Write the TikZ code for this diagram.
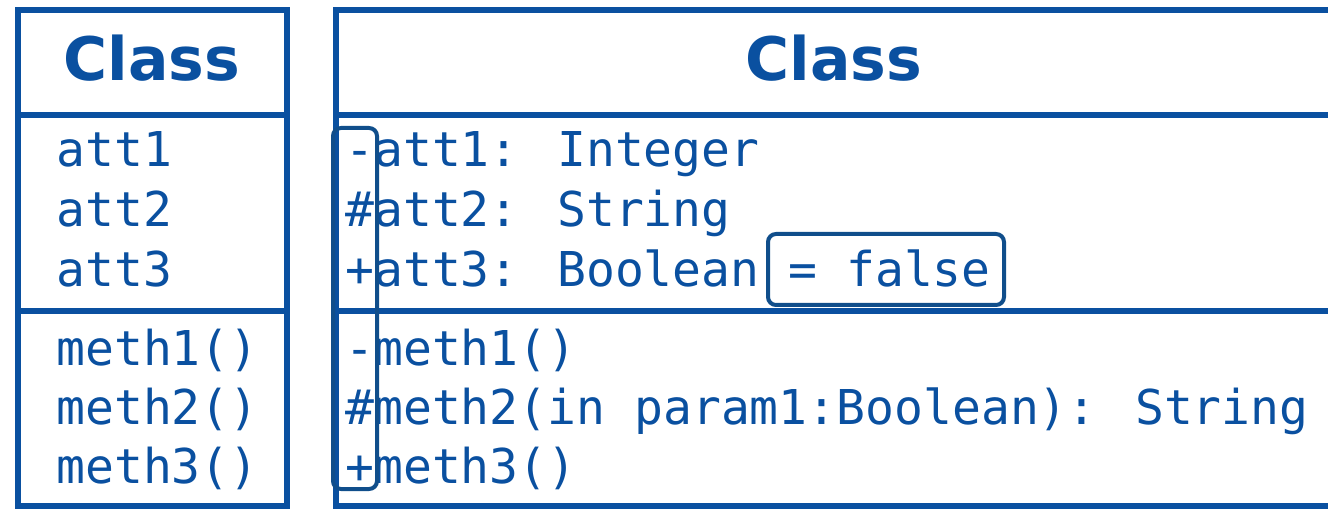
\documentclass[tikz,border=0pt]{standalone}
\usepackage{fontspec}
\setmainfont{DejaVu Sans}
\newfontfamily\umlmono{DejaVu Sans Mono}
\usepackage{xcolor}
\usepackage{tikz}
\usetikzlibrary{positioning}
\definecolor{umlblue}{RGB}{10,80,160}
\definecolor{markblue}{RGB}{16,78,139}
\tikzstyle{classbox} = [draw=umlblue, line width=3pt]
\tikzstyle{classname} = [text=umlblue, font=\fontsize{30}{36}\selectfont\bfseries, inner sep=0pt, anchor=base]
\tikzstyle{member} = [text=umlblue, font=\umlmono\fontsize{24}{30}\selectfont, inner sep=0pt, anchor=base west]
\tikzstyle{highlight} = [draw=markblue, line width=2pt, rounded corners=4pt]

\begin{document}
\begin{tikzpicture}[x=0.5pt, y=-0.5pt]
    \useasboundingbox (0,0) rectangle (1328,513);

    % === LEFT: short class ===
    \draw[classbox] (18,10) rectangle (287,506);
    \draw[classbox] (18,115) -- (287,115);
    \draw[classbox] (18,311) -- (287,311);
    \node[classname] (lname) at (152,81) {Class};
    \node[member] (latt1) at (56,167) {att1};
    \node[member] (latt2) at (56,227) {att2};
    \node[member] (latt3) at (56,287) {att3};
    \node[member] (lmeth1) at (56,365) {meth1()};
    \node[member] (lmeth2) at (56,424) {meth2()};
    \node[member] (lmeth3) at (56,483) {meth3()};

    % === RIGHT: full class ===
    \draw[classbox] (336,10) rectangle (1331,506);
    \draw[classbox] (336,115) -- (1331,115);
    \draw[classbox] (336,311) -- (1331,311);
    \node[classname] (rname) at (834,81) {Class};
    \node[member] (ratt1) at (345,167) {-att1: Integer};
    \node[member] (ratt2) at (345,227) {\#att2: String};
    \node[member] (ratt3) at (345,287) {+att3: Boolean = false};
    \node[member] (rmeth1) at (345,365) {-meth1()};
    \node[member] (rmeth2) at (345,424) {\#meth2(in param1:Boolean): String};
    \node[member] (rmeth3) at (345,483) {+meth3()};

    % highlights: visibility column and default value
    \draw[highlight] (333,128) rectangle (377,489);
    \draw[highlight] (768,234) rectangle (1004,305);
\end{tikzpicture}
\end{document}
